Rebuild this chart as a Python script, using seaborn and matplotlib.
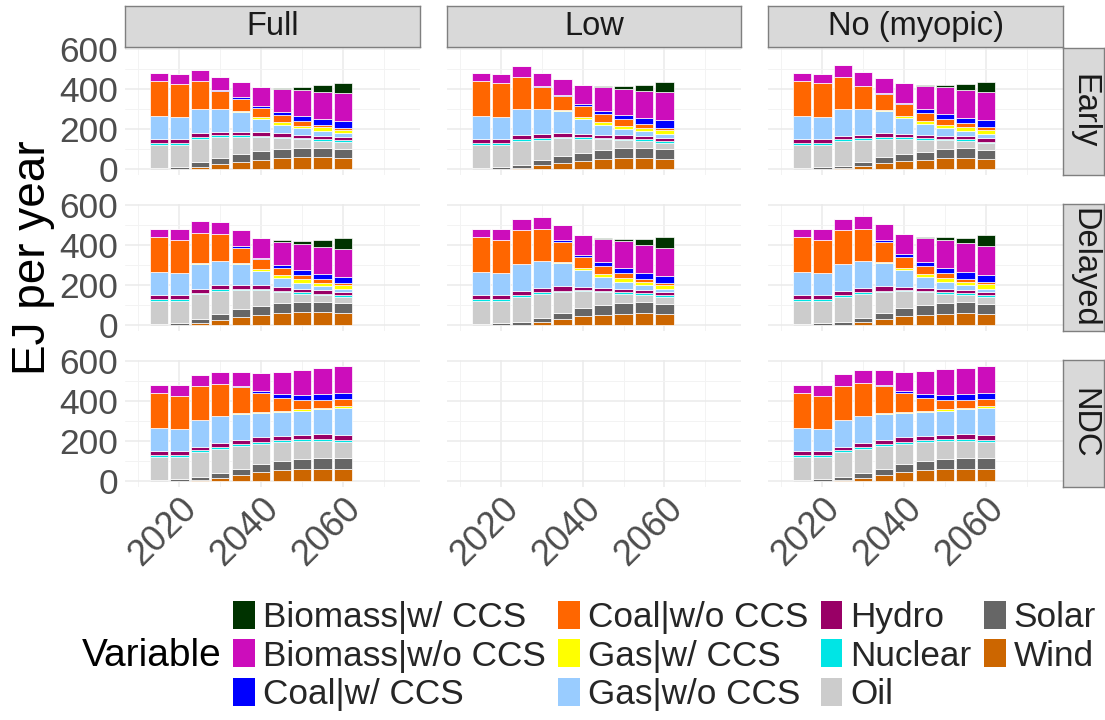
import numpy as np
import pandas as pd
import seaborn as sns
import matplotlib
matplotlib.use('Agg')
import matplotlib.pyplot as plt
from matplotlib.patches import Patch
from matplotlib.ticker import MultipleLocator


# ---- data (EJ per year) ----
years = [2015, 2020, 2025, 2030, 2035, 2040, 2045, 2050, 2055, 2060]

# legend order; the first level sits on top of each stack
variables = ['Biomass|w/ CCS', 'Biomass|w/o CCS', 'Coal|w/ CCS', 'Coal|w/o CCS',
             'Gas|w/ CCS', 'Gas|w/o CCS', 'Hydro', 'Nuclear', 'Oil', 'Solar', 'Wind']
palette = ['#003300', '#CC0DBB', '#0000FF', '#FF6600', '#FFFF00', '#99CCFF',
           '#990066', '#00E5E5', '#CCCCCC', '#666666', '#CC6600']

scenarios = ['Full', 'Low', 'No (myopic)']
timings = ['Early', 'Delayed', 'NDC']

# one row per year, columns bottom-up:
# Wind, Solar, Oil, Nuclear, Hydro, Gas|w/o, Gas|w/, Coal|w/o, Coal|w/, Biomass|w/o, Biomass|w/
stack_cols = variables[::-1]

full_early = [
    [3, 1, 118, 11, 19, 115, 0, 175, 0, 38, 0],
    [3, 9, 108, 10, 20, 112, 0, 166, 0, 47, 0],
    [13, 24, 113, 10, 22, 118, 2, 138, 0, 57, 0],
    [27, 30, 106, 7, 17, 113, 3, 90, 5, 62, 0],
    [38, 37, 88, 9, 16, 99, 5, 60, 8, 78, 0],
    [48, 42, 72, 6, 19, 66, 9, 46, 7, 97, 0],
    [58, 45, 52, 7, 18, 42, 15, 35, 15, 113, 7],
    [62, 46, 42, 5, 18, 32, 13, 25, 22, 132, 15],
    [62, 43, 38, 9, 16, 25, 17, 13, 29, 136, 34],
    [58, 45, 35, 9, 15, 20, 16, 10, 34, 138, 52],
]
low_early = [
    [3, 1, 118, 11, 19, 115, 0, 175, 0, 38, 0],
    [3, 9, 108, 10, 20, 112, 0, 171, 0, 45, 0],
    [8, 14, 120, 10, 18, 132, 0, 160, 0, 55, 0],
    [20, 25, 102, 10, 20, 125, 0, 110, 5, 63, 0],
    [32, 33, 90, 7, 18, 112, 3, 72, 6, 77, 0],
    [42, 38, 73, 7, 17, 76, 9, 56, 9, 95, 0],
    [52, 43, 55, 7, 16, 49, 15, 41, 15, 117, 7],
    [58, 47, 42, 6, 17, 33, 15, 32, 22, 131, 15],
    [58, 47, 38, 7, 15, 27, 15, 20, 28, 138, 30],
    [53, 47, 32, 8, 17, 21, 19, 11, 37, 142, 50],
]
myopic_early = [
    [3, 1, 118, 11, 19, 115, 0, 175, 0, 38, 0],
    [3, 9, 108, 10, 20, 112, 0, 171, 0, 45, 0],
    [6, 10, 124, 10, 18, 134, 0, 160, 0, 58, 0],
    [17, 21, 109, 10, 16, 129, 0, 116, 0, 69, 0],
    [30, 30, 93, 9, 18, 112, 5, 78, 7, 76, 0],
    [40, 37, 76, 7, 15, 83, 7, 60, 8, 97, 0],
    [47, 41, 60, 7, 17, 53, 15, 43, 17, 117, 5],
    [57, 45, 45, 6, 15, 40, 14, 31, 24, 133, 12],
    [58, 47, 38, 9, 15, 26, 17, 20, 28, 139, 30],
    [52, 46, 34, 6, 19, 21, 19, 13, 37, 141, 50],
]
full_delayed = [
    [3, 1, 118, 11, 19, 115, 0, 175, 0, 38, 0],
    [3, 9, 108, 10, 20, 112, 0, 166, 0, 55, 0],
    [10, 22, 123, 7, 18, 128, 4, 151, 0, 59, 0],
    [25, 33, 114, 8, 20, 120, 0, 135, 0, 62, 0],
    [40, 40, 95, 8, 19, 105, 3, 78, 7, 82, 0],
    [52, 46, 77, 8, 17, 73, 7, 50, 7, 98, 0],
    [60, 50, 57, 6, 17, 48, 12, 37, 13, 117, 8],
    [65, 52, 41, 7, 17, 31, 19, 21, 22, 133, 14],
    [65, 52, 35, 6, 17, 22, 15, 18, 27, 135, 33],
    [60, 50, 33, 7, 15, 18, 20, 9, 30, 138, 55],
]
low_delayed = [
    [3, 1, 118, 11, 19, 115, 0, 175, 0, 38, 0],
    [3, 9, 108, 10, 20, 112, 0, 166, 0, 55, 0],
    [3, 15, 124, 10, 18, 135, 0, 172, 0, 55, 0],
    [17, 21, 119, 8, 20, 137, 0, 160, 0, 61, 0],
    [32, 31, 102, 8, 22, 117, 3, 102, 8, 77, 0],
    [45, 40, 85, 7, 16, 84, 8, 57, 8, 102, 0],
    [53, 50, 62, 7, 16, 55, 14, 40, 18, 117, 5],
    [58, 54, 46, 7, 17, 35, 18, 25, 25, 135, 13],
    [63, 54, 36, 7, 15, 25, 18, 15, 30, 140, 30],
    [55, 52, 35, 8, 15, 18, 19, 11, 34, 140, 53],
]
myopic_delayed = [
    [3, 1, 118, 11, 19, 115, 0, 175, 0, 38, 0],
    [3, 9, 108, 10, 20, 112, 0, 166, 0, 55, 0],
    [3, 15, 124, 10, 18, 135, 0, 172, 0, 56, 0],
    [17, 21, 119, 8, 20, 137, 0, 160, 0, 65, 0],
    [32, 31, 102, 8, 22, 117, 3, 102, 8, 80, 0],
    [45, 40, 85, 7, 16, 84, 8, 57, 15, 100, 0],
    [53, 50, 62, 7, 16, 55, 14, 40, 20, 120, 6],
    [58, 54, 46, 7, 17, 35, 18, 25, 25, 140, 15],
    [63, 54, 36, 7, 15, 25, 18, 15, 35, 144, 26],
    [55, 52, 35, 8, 15, 18, 22, 11, 37, 145, 51],
]
full_ndc = [
    [3, 1, 118, 11, 19, 115, 0, 175, 0, 38, 0],
    [3, 9, 108, 10, 20, 112, 0, 166, 0, 55, 0],
    [5, 15, 127, 8, 18, 135, 0, 167, 0, 57, 0],
    [17, 25, 118, 10, 23, 135, 0, 159, 0, 61, 0],
    [30, 33, 114, 8, 23, 130, 2, 132, 5, 71, 0],
    [45, 42, 101, 7, 28, 117, 5, 97, 10, 91, 0],
    [55, 48, 94, 10, 21, 120, 5, 64, 18, 112, 0],
    [60, 52, 88, 10, 23, 120, 7, 47, 23, 128, 0],
    [63, 52, 85, 12, 23, 125, 8, 37, 30, 133, 0],
    [60, 55, 82, 11, 25, 134, 11, 32, 32, 135, 0],
]
myopic_ndc = [
    [3, 1, 118, 11, 19, 115, 0, 175, 0, 38, 0],
    [3, 9, 108, 10, 20, 112, 0, 166, 0, 55, 0],
    [5, 15, 127, 8, 18, 135, 0, 168, 0, 59, 0],
    [17, 25, 118, 10, 23, 135, 0, 165, 0, 62, 0],
    [30, 33, 114, 8, 23, 130, 2, 135, 5, 77, 0],
    [45, 42, 101, 7, 28, 117, 5, 97, 10, 95, 0],
    [55, 48, 94, 10, 21, 120, 5, 64, 18, 115, 0],
    [60, 52, 88, 10, 23, 120, 7, 47, 23, 130, 0],
    [63, 52, 85, 12, 23, 125, 8, 37, 30, 133, 0],
    [60, 55, 82, 11, 25, 134, 11, 32, 32, 135, 0],
]

facets = {
    ('Early', 'Full'): full_early,
    ('Early', 'Low'): low_early,
    ('Early', 'No (myopic)'): myopic_early,
    ('Delayed', 'Full'): full_delayed,
    ('Delayed', 'Low'): low_delayed,
    ('Delayed', 'No (myopic)'): myopic_delayed,
    ('NDC', 'Full'): full_ndc,
    ('NDC', 'No (myopic)'): myopic_ndc,
}

rows = []
for (timing, scen), table in facets.items():
    for yr, vals in zip(years, table):
        for var, v in zip(stack_cols, vals):
            rows.append((timing, scen, yr, var, v))
df = pd.DataFrame(rows, columns=['Timing', 'Scenario', 'Year', 'Variable', 'Value'])
colors = dict(zip(variables, palette))

# ---- figure ----
sns.set_theme(style='white')
plt.rcParams['font.family'] = ['Liberation Sans', 'DejaVu Sans']

W, H = 1105, 720
fig = plt.figure(figsize=(W / 100, H / 100), dpi=100)


def px_axes(x0, y0, x1, y1):
    return fig.add_axes([x0 / W, 1 - y1 / H, (x1 - x0) / W, (y1 - y0) / H])


cols_x = [(125, 420), (447, 741), (768, 1063)]
rows_y = [(48, 175), (204, 331), (360, 487)]
ymax = df.groupby(['Timing', 'Scenario', 'Year'])['Value'].sum().max()

for r, timing in enumerate(timings):
    for c, scen in enumerate(scenarios):
        ax = px_axes(cols_x[c][0], rows_y[r][0], cols_x[c][1], rows_y[r][1])
        sub = df[(df.Timing == timing) & (df.Scenario == scen)]
        if len(sub):
            sns.histplot(data=sub, x='Year', weights='Value', hue='Variable',
                         hue_order=variables, palette=colors, multiple='stack',
                         binwidth=5, binrange=(2012.5, 2062.5), shrink=0.9,
                         alpha=1, edgecolor='white', linewidth=0.5,
                         legend=False, ax=ax)
        ax.set_xlim(2006.75, 2078.75)
        ax.set_ylim(-0.05 * ymax, 1.05 * ymax)
        ax.set_xlabel('')
        ax.set_ylabel('')
        for s in ax.spines.values():
            s.set_visible(False)
        ax.set_axisbelow(True)
        ax.xaxis.set_major_locator(MultipleLocator(20))
        ax.xaxis.set_minor_locator(MultipleLocator(10))
        ax.yaxis.set_major_locator(MultipleLocator(200))
        ax.yaxis.set_minor_locator(MultipleLocator(100))
        ax.grid(which='major', color='#EBEBEB', lw=1.1)
        ax.grid(which='minor', color='#F3F3F3', lw=0.7)
        ax.tick_params(which='minor', length=0)
        ax.tick_params(axis='both', which='major', colors='#333333',
                       labelcolor='#4D4D4D', labelsize=25.5, width=0.8)
        if c == 0:
            ax.tick_params(axis='y', length=3, pad=2)
        else:
            ax.tick_params(axis='y', length=0, labelleft=False)
        if r == 2:
            ax.tick_params(axis='x', length=3, pad=0, labelsize=26)
            ax.set_xticks([2020, 2040, 2060], labels=['2020', '2040', '2060'],
                          rotation=45, ha='right', va='top',
                          rotation_mode='anchor')
        else:
            ax.tick_params(axis='x', length=0, labelbottom=False)

# column strips
for c, scen in enumerate(scenarios):
    sax = px_axes(cols_x[c][0], 6, cols_x[c][1], 47)
    sax.set_facecolor('#D9D9D9')
    sax.set_xticks([])
    sax.set_yticks([])
    for s in sax.spines.values():
        s.set_color('#7F7F7F')
        s.set_linewidth(1.0)
    sax.text(0.5, 0.5, scen, ha='center', va='center', fontsize=23.5,
             color='#1A1A1A', transform=sax.transAxes)

# row strips
for r, timing in enumerate(timings):
    sax = px_axes(1063, rows_y[r][0], 1104, rows_y[r][1])
    sax.set_facecolor('#D9D9D9')
    sax.set_xticks([])
    sax.set_yticks([])
    for s in sax.spines.values():
        s.set_color('#7F7F7F')
        s.set_linewidth(1.0)
    sax.text(0.5, 0.5, timing, ha='center', va='center', fontsize=23.5,
             rotation=-90, color='#1A1A1A', transform=sax.transAxes)

fig.text(33 / W, 1 - 258 / H, 'EJ per year', rotation=90, ha='center',
         va='center', fontsize=33, color='black')

# legend
handles = [Patch(facecolor=colors[v], edgecolor='none') for v in variables]
fig.legend(handles, variables, ncol=4, loc='center left',
           bbox_to_anchor=(233 / W, 1 - 656 / H), frameon=False, fontsize=25.3,
           handlelength=0.62, handleheight=0.85, handletextpad=0.22,
           columnspacing=0.36, labelspacing=0.14, borderpad=0, borderaxespad=0)
fig.text(82 / W, 1 - 656 / H, 'Variable', ha='left', va='center',
         fontsize=28, color='black')

fig.savefig('out.png', dpi=100)
